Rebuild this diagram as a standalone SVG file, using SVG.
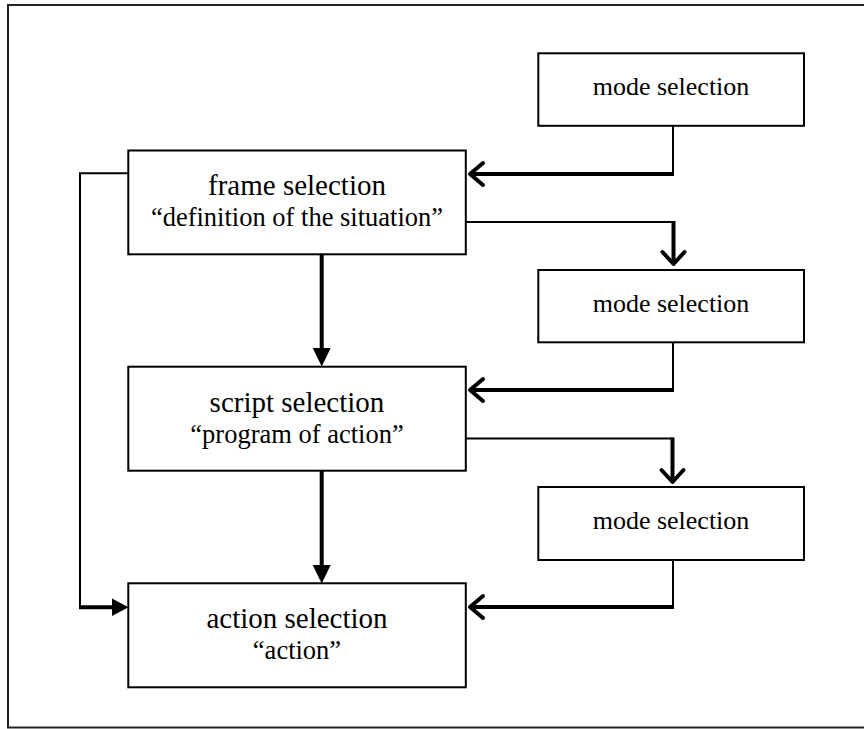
<svg xmlns="http://www.w3.org/2000/svg" width="864" height="729" viewBox="0 0 864 729">
<defs>
<style>
.box{fill:#fff;stroke:#000;stroke-width:2}
.t{font-family:"Liberation Serif","Times New Roman",serif;fill:#000;text-anchor:middle}
.big{font-size:29px}
.sm{font-size:26.5px}
.mode{font-size:26px}
.thin{fill:none;stroke:#000;stroke-width:2}
.thick{fill:none;stroke:#000;stroke-width:4}
.chev{fill:none;stroke:#000;stroke-width:4;stroke-linecap:round;stroke-linejoin:round}
.tri{fill:#000}
</style>
</defs>
<rect x="0" y="0" width="864" height="729" fill="#fff"/>
<rect x="8" y="5" width="860" height="722.5" fill="none" stroke="#222" stroke-width="2"/>

<g id="connectors">
  <!-- mode1 -> frame -->
  <polyline class="thin" points="673,126 673,174"/>
  <line class="thick" x1="674" y1="174" x2="471" y2="174"/>
  <polyline class="chev" points="483,163 470,174 483,185"/>
  <!-- frame -> mode2 -->
  <polyline class="thin" points="466,222 674,222"/>
  <line class="thick" x1="673.5" y1="221" x2="673.5" y2="263"/>
  <polyline class="chev" points="662.5,252 673.5,264 684.5,252"/>
  <!-- mode2 -> script -->
  <polyline class="thin" points="673,342 673,390"/>
  <line class="thick" x1="674" y1="390" x2="471" y2="390"/>
  <polyline class="chev" points="483,379 470,390 483,401"/>
  <!-- script -> mode3 -->
  <polyline class="thin" points="466,438.5 673,438.5"/>
  <line class="thick" x1="672.5" y1="437.5" x2="672.5" y2="481"/>
  <polyline class="chev" points="661.5,470 672.5,482 683.5,470"/>
  <!-- mode3 -> action -->
  <polyline class="thin" points="673,560 673,607"/>
  <line class="thick" x1="674" y1="607" x2="471" y2="607"/>
  <polyline class="chev" points="483,596 470,607 483,618"/>
  <!-- frame -> script -->
  <line class="thick" x1="321.7" y1="254" x2="321.7" y2="350"/>
  <polygon class="tri" points="312.7,348 330.7,348 321.7,366.5"/>
  <!-- script -> action -->
  <line class="thick" x1="321.7" y1="471" x2="321.7" y2="567"/>
  <polygon class="tri" points="312.7,565 330.7,565 321.7,583.5"/>
  <!-- frame -> action (left loop) -->
  <polyline class="thin" points="128,173.3 80,173.3 80,607"/>
  <line class="thick" x1="79" y1="607.3" x2="114" y2="607.3"/>
  <polygon class="tri" points="112,598.5 112,616 128.5,607.3"/>
</g>

<g id="mode1">
  <rect class="box" x="538.3" y="53.3" width="265.7" height="72.5"/>
  <text class="t mode" x="671" y="95">mode selection</text>
</g>
<g id="frame">
  <rect class="box" x="128.3" y="150.5" width="337.5" height="103.8"/>
  <text class="t big" x="297" y="195">frame selection</text>
  <text class="t sm" x="297" y="226">“definition of the situation”</text>
</g>
<g id="mode2">
  <rect class="box" x="538.3" y="270" width="265.7" height="72.3"/>
  <text class="t mode" x="671" y="312">mode selection</text>
</g>
<g id="script">
  <rect class="box" x="128.3" y="366.7" width="337.5" height="104"/>
  <text class="t big" x="297" y="411.7">script selection</text>
  <text class="t sm" x="297" y="442.7">“program of action”</text>
</g>
<g id="mode3">
  <rect class="box" x="538.3" y="487" width="265.7" height="73"/>
  <text class="t mode" x="671" y="529">mode selection</text>
</g>
<g id="action">
  <rect class="box" x="128.3" y="583.3" width="337.5" height="104"/>
  <text class="t big" x="297" y="628.3">action selection</text>
  <text class="t sm" x="297" y="659.3">“action”</text>
</g>
</svg>
